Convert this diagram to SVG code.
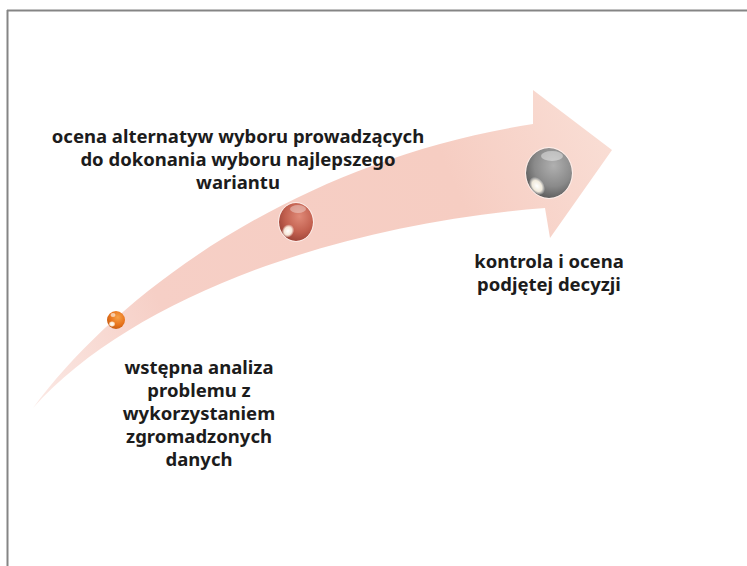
<svg xmlns="http://www.w3.org/2000/svg" width="747" height="566" viewBox="0 0 747 566">
  <defs>
    <linearGradient id="arrowFill" x1="33" y1="408" x2="612" y2="150" gradientUnits="userSpaceOnUse">
      <stop offset="0" stop-color="#fbe9e5"/>
      <stop offset="0.25" stop-color="#f6cfc6"/>
      <stop offset="0.75" stop-color="#f6cdc2"/>
      <stop offset="1" stop-color="#f9ddd4"/>
    </linearGradient>
    <radialGradient id="gOrange" cx="0.6" cy="0.35" r="0.7">
      <stop offset="0" stop-color="#f7a24a"/>
      <stop offset="0.6" stop-color="#e8741c"/>
      <stop offset="1" stop-color="#c45a12"/>
    </radialGradient>
    <radialGradient id="gRed" cx="0.6" cy="0.35" r="0.7">
      <stop offset="0" stop-color="#e08a78"/>
      <stop offset="0.6" stop-color="#c2604f"/>
      <stop offset="1" stop-color="#9a4236"/>
    </radialGradient>
    <radialGradient id="gGray" cx="0.6" cy="0.35" r="0.7">
      <stop offset="0" stop-color="#b0b0b0"/>
      <stop offset="0.6" stop-color="#8a8a8a"/>
      <stop offset="1" stop-color="#585858"/>
    </radialGradient>
    <radialGradient id="gShine" cx="0.5" cy="0.5" r="0.5">
      <stop offset="0" stop-color="#ffffff" stop-opacity="1"/>
      <stop offset="0.6" stop-color="#fff8e8" stop-opacity="0.9"/>
      <stop offset="1" stop-color="#ffffff" stop-opacity="0"/>
    </radialGradient>
  </defs>
  <style>
    .frame { stroke: #858585; stroke-width: 2; fill: none; }
    .lbl { font-family: "Noto Sans", "Open Sans", "Liberation Sans", sans-serif; font-weight: bold; font-size: 18.5px; fill: #1c1c1c; text-anchor: middle; }
    .rim { fill: none; stroke: #ffffff; stroke-opacity: 0.6; stroke-width: 1; }
  </style>
  <rect width="747" height="566" fill="#ffffff"/>
  <g id="frame">
    <line class="frame" x1="7" y1="10.5" x2="747" y2="10.5"/>
    <line class="frame" x1="7.5" y1="10" x2="7.5" y2="566"/>
  </g>
  <g id="connectors">
    <g id="arrow">
      <path d="M33,408 C120,290 300,160 533,124 L533,90 L612,150 L550,238 L545,208 C330,225 130,300 33,408 Z" fill="url(#arrowFill)"/>
    </g>
  </g>
  <g id="ball-1">
    <circle cx="116" cy="320" r="9" fill="url(#gOrange)"/>
    <ellipse cx="112" cy="324" rx="3.5" ry="3" fill="url(#gShine)"/>
    <ellipse cx="113" cy="315" rx="2.5" ry="2" fill="#ffffff" opacity="0.6"/>
  </g>
  <g id="ball-2">
    <ellipse cx="296" cy="222" rx="17" ry="19" fill="url(#gRed)"/>
    <ellipse cx="288" cy="231" rx="6" ry="7" transform="rotate(30 288 231)" fill="url(#gShine)"/>
    <ellipse cx="298" cy="209" rx="8" ry="4" fill="#ffffff" opacity="0.35"/>
    <ellipse class="rim" cx="296" cy="222" rx="17.5" ry="19.5"/>
  </g>
  <g id="ball-3">
    <ellipse cx="549" cy="173" rx="23" ry="25" fill="url(#gGray)"/>
    <ellipse cx="537" cy="186" rx="7" ry="10" transform="rotate(-35 537 186)" fill="url(#gShine)"/>
    <ellipse cx="552" cy="156" rx="11" ry="5" fill="#ffffff" opacity="0.4"/>
    <ellipse class="rim" cx="549" cy="173" rx="23.5" ry="25.5"/>
  </g>
  <g id="label-2">
    <text class="lbl" x="238" y="143">ocena alternatyw wyboru prowadzących</text>
    <text class="lbl" x="238" y="166">do dokonania wyboru najlepszego</text>
    <text class="lbl" x="238" y="189">wariantu</text>
  </g>
  <g id="label-3">
    <text class="lbl" x="549" y="268">kontrola i ocena</text>
    <text class="lbl" x="549" y="291">podjętej decyzji</text>
  </g>
  <g id="label-1">
    <text class="lbl" x="199" y="374">wstępna analiza</text>
    <text class="lbl" x="199" y="397">problemu z</text>
    <text class="lbl" x="199" y="420">wykorzystaniem</text>
    <text class="lbl" x="199" y="443">zgromadzonych</text>
    <text class="lbl" x="199" y="466">danych</text>
  </g>
</svg>
